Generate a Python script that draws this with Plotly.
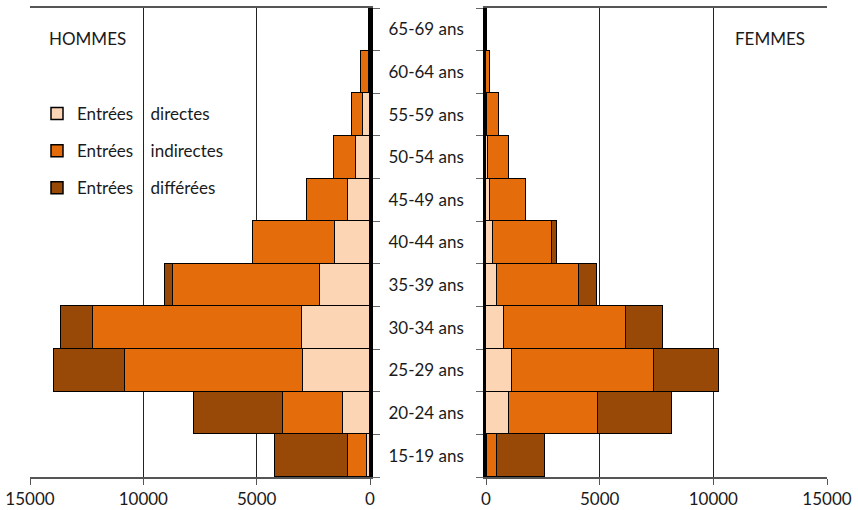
import plotly.graph_objects as go

# Age groups, bottom to top
categories = ["15-19 ans", "20-24 ans", "25-29 ans", "30-34 ans", "35-39 ans",
              "40-44 ans", "45-49 ans", "50-54 ans", "55-59 ans", "60-64 ans", "65-69 ans"]

# Hommes
hommes_directes = [120, 1180, 2970, 3010, 2200, 1545, 955, 620, 320, 30, 20]
hommes_indirectes = [840, 2640, 7835, 9220, 6510, 3600, 1840, 970, 470, 370, 30]
hommes_differees = [3235, 3925, 3145, 1410, 330, 30, 0, 0, 0, 0, 0]

# Femmes
femmes_directes = [60, 994, 1140, 790, 482, 320, 175, 100, 50, 20, 10]
femmes_indirectes = [420, 3930, 6230, 5380, 3610, 2600, 1565, 920, 535, 150, 50]
femmes_differees = [2120, 3250, 2870, 1610, 790, 220, 0, 0, 0, 0, 0]

x_ticks = [0, 5000, 10000, 15000]

series = [
    ("directes", "#FCD5B5", hommes_directes, femmes_directes),
    ("indirectes", "#E46C0A", hommes_indirectes, femmes_indirectes),
    ("différées", "#984807", hommes_differees, femmes_differees),
]

FONT = "Lato"
FS = 17
W, H = 858, 510
ML, MR, MT, MB = 0, 0, 8, 33
PH = H - MT - MB

fig = go.Figure()
for name, color, h_vals, f_vals in series:
    label = "Entrées" + "\u00a0" * 4 + name
    fig.add_trace(go.Bar(
        y=categories, x=h_vals, orientation="h", name=label,
        marker=dict(color=color, line=dict(color="black", width=1.5)),
        xaxis="x", yaxis="y", legendgroup=name, showlegend=True,
    ))
    fig.add_trace(go.Bar(
        y=categories, x=f_vals, orientation="h", name=label,
        marker=dict(color=color, line=dict(color="black", width=1.5)),
        xaxis="x2", yaxis="y2", legendgroup=name, showlegend=False,
    ))

axis_font = dict(family=FONT, size=FS, color="#1a1a1a")


def px_x(p):
    return p / W


def px_y(p):
    return 1 - (p - MT) / PH


common_x = dict(
    tickvals=x_ticks, ticktext=[str(v) for v in x_ticks],
    showgrid=True, gridcolor="#222222", gridwidth=1,
    zeroline=False, showline=True, linecolor="#555555", linewidth=1.5,
    mirror=True, ticks="outside", ticklen=6, tickcolor="#555555",
    tickfont=axis_font, fixedrange=True, automargin=False,
)
common_y = dict(
    domain=[0, 1], type="category",
    categoryorder="array", categoryarray=categories,
    showline=True, linecolor="black", linewidth=2.5,
    ticks="outside", ticklen=7, tickcolor="#666666", tickson="boundaries",
    showgrid=False, zeroline=False, automargin=False, fixedrange=True,
)

fig.update_layout(
    width=W, height=H,
    margin=dict(l=ML, r=MR, t=MT, b=MB, autoexpand=False),
    paper_bgcolor="white", plot_bgcolor="white",
    barmode="stack", bargap=0,
    font=axis_font,
    xaxis=dict(domain=[px_x(30), px_x(370)], range=[15000, 0], anchor="y", **common_x),
    yaxis=dict(anchor="x", side="right", showticklabels=False, **common_y),
    xaxis2=dict(domain=[px_x(486), px_x(827)], range=[0, 15000], anchor="y2", **common_x),
    yaxis2=dict(anchor="x2", side="left", showticklabels=True, tickfont=axis_font,
                ticklabelstandoff=16, **common_y),
    legend=dict(
        x=px_x(37), xanchor="left",
        y=px_y(96), yanchor="top",
        bgcolor="rgba(0,0,0,0)", font=dict(family=FONT, size=FS, color="#1a1a1a"),
        traceorder="grouped", tracegroupgap=12, itemwidth=30,
    ),
    annotations=[
        dict(text="HOMMES", x=px_x(47), y=px_y(38),
             xref="paper", yref="paper", xanchor="left", yanchor="middle",
             showarrow=False, font=dict(family=FONT, size=FS, color="#1a1a1a")),
        dict(text="FEMMES", x=px_x(733), y=px_y(38),
             xref="paper", yref="paper", xanchor="left", yanchor="middle",
             showarrow=False, font=dict(family=FONT, size=FS, color="#1a1a1a")),
    ],
)

fig.write_html("out.html")
